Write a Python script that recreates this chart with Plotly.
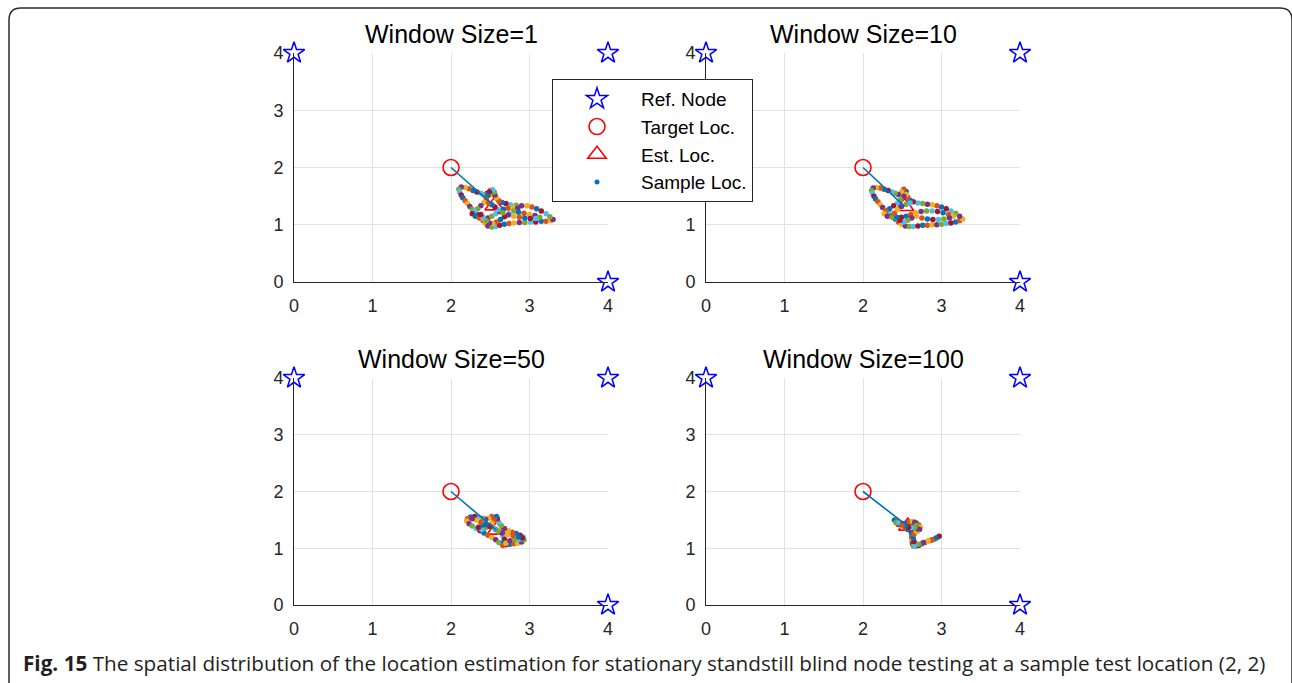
import plotly.graph_objects as go

# ---- data -------------------------------------------------------------
ref_x = [0, 4, 4]
ref_y = [4, 4, 0]
target = (2, 2)

titles = ["Window Size=1", "Window Size=10", "Window Size=50", "Window Size=100"]

# estimated location (mean of samples) for each window size
est_x = [2.55, 2.53, 2.58, 2.57]
est_y = [1.33, 1.32, 1.32, 1.39]

ws1_x = [2.55, 2.50, 2.52, 2.46, 2.42, 2.38, 2.33, 2.28, 2.23, 2.18, 2.13, 2.10, 2.11, 2.13, 2.15,
         2.18, 2.21, 2.24, 2.27, 2.31, 2.35, 2.38, 2.41, 2.44, 2.47, 2.52, 2.57, 2.62,
         2.68, 2.74, 2.80, 2.87, 2.94, 3.01, 3.08, 3.15, 3.21, 3.27, 3.30,
         3.26, 3.21, 3.15, 3.09, 3.03, 2.97, 2.90, 2.83, 2.76, 2.70, 2.65, 2.61,
         2.58, 2.56, 2.55, 2.53, 2.49, 2.47, 2.45, 2.42, 2.38, 2.34, 2.30, 2.27,
         2.31, 2.36, 2.41, 2.47, 2.52, 2.57, 2.62, 2.67, 2.73, 2.79, 2.85,
         2.80, 2.74, 2.68, 2.63, 2.58, 2.53, 2.49, 2.45, 2.41, 2.38,
         2.86, 2.93, 3.00, 3.07, 3.13, 3.08, 3.01, 2.94, 2.87, 2.80, 2.73, 2.66, 2.60, 2.56, 2.52, 2.48]
ws1_y = [1.56, 1.60, 1.52, 1.55, 1.52, 1.55, 1.57, 1.60, 1.63, 1.65, 1.66, 1.62, 1.57, 1.52, 1.47,
         1.42, 1.37, 1.32, 1.27, 1.22, 1.17, 1.12, 1.07, 1.02, 0.98, 0.96, 0.97, 0.99,
         1.01, 1.02, 1.03, 1.04, 1.04, 1.05, 1.05, 1.06, 1.06, 1.07, 1.09,
         1.14, 1.19, 1.24, 1.28, 1.31, 1.33, 1.33, 1.34, 1.35, 1.37, 1.39, 1.42,
         1.47, 1.52, 1.57, 1.61, 1.57, 1.51, 1.45, 1.39, 1.33, 1.28, 1.24, 1.19,
         1.15, 1.12, 1.11, 1.12, 1.15, 1.19, 1.23, 1.27, 1.29, 1.30, 1.29,
         1.24, 1.19, 1.14, 1.09, 1.05, 1.02, 1.03, 1.07, 1.13, 1.18,
         1.22, 1.20, 1.18, 1.16, 1.13, 1.11, 1.11, 1.12, 1.13, 1.15, 1.17, 1.21, 1.26, 1.31, 1.35, 1.38]

ws10_x = [2.55, 2.52, 2.49, 2.45, 2.41, 2.37, 2.32, 2.27, 2.22, 2.17, 2.13, 2.11, 2.12, 2.14, 2.16,
          2.19, 2.22, 2.25, 2.29, 2.33, 2.37, 2.41, 2.45, 2.49, 2.54, 2.59, 2.64,
          2.70, 2.76, 2.82, 2.88, 2.94, 3.00, 3.06, 3.12, 3.18, 3.23, 3.27,
          3.23, 3.18, 3.12, 3.06, 3.00, 2.94, 2.88, 2.82, 2.76, 2.70, 2.64, 2.60, 2.57, 2.55,
          2.52, 2.48, 2.44, 2.39, 2.34, 2.29, 2.27, 2.31, 2.37, 2.43, 2.49, 2.55, 2.61, 2.67,
          2.74, 2.81, 2.88, 2.95, 3.02, 3.09, 3.15,
          3.10, 3.03, 2.96, 2.89, 2.82, 2.75, 2.68, 2.62, 2.57, 2.52, 2.47, 2.43, 2.40, 2.44,
          2.49, 2.55, 2.60]
ws10_y = [1.58, 1.62, 1.57, 1.53, 1.55, 1.57, 1.60, 1.62, 1.64, 1.65, 1.64, 1.60, 1.55, 1.50, 1.45,
          1.40, 1.35, 1.30, 1.25, 1.20, 1.15, 1.10, 1.05, 1.01, 0.98, 0.97, 0.97,
          0.98, 0.99, 0.99, 1.00, 1.00, 1.01, 1.02, 1.03, 1.05, 1.07, 1.10,
          1.15, 1.20, 1.24, 1.28, 1.31, 1.33, 1.35, 1.36, 1.37, 1.38, 1.40, 1.43, 1.48, 1.53,
          1.50, 1.44, 1.38, 1.33, 1.28, 1.24, 1.19, 1.15, 1.13, 1.12, 1.13, 1.15, 1.18, 1.21,
          1.23, 1.24, 1.24, 1.23, 1.21, 1.18, 1.15,
          1.12, 1.10, 1.09, 1.09, 1.10, 1.12, 1.15, 1.12, 1.08, 1.05, 1.08, 1.13, 1.20, 1.27,
          1.32, 1.36, 1.38]

ws50_x = [2.55, 2.52, 2.48, 2.44, 2.40, 2.35, 2.30, 2.25, 2.21, 2.20, 2.23, 2.27, 2.32, 2.37,
          2.42, 2.47, 2.52, 2.57, 2.61, 2.65, 2.70, 2.75, 2.80, 2.85, 2.90, 2.93, 2.92, 2.88,
          2.83, 2.78, 2.73, 2.68, 2.64, 2.61, 2.59, 2.58, 2.55, 2.52, 2.48, 2.44, 2.39, 2.35,
          2.40, 2.46, 2.52, 2.57, 2.62, 2.66, 2.68, 2.67, 2.66, 2.70, 2.75, 2.81, 2.87, 2.91,
          2.86, 2.79, 2.72, 2.65, 2.60, 2.55, 2.50, 2.44, 2.38, 2.32, 2.27]
ws50_y = [1.52, 1.56, 1.53, 1.51, 1.53, 1.55, 1.56, 1.55, 1.52, 1.48, 1.43, 1.39, 1.35, 1.31,
          1.27, 1.23, 1.19, 1.15, 1.10, 1.07, 1.06, 1.07, 1.08, 1.09, 1.11, 1.15, 1.20, 1.23,
          1.26, 1.28, 1.31, 1.35, 1.40, 1.46, 1.52, 1.56, 1.50, 1.44, 1.40, 1.36, 1.33, 1.37,
          1.41, 1.40, 1.37, 1.33, 1.28, 1.22, 1.16, 1.10, 1.05, 1.09, 1.13, 1.15, 1.16, 1.18,
          1.20, 1.22, 1.24, 1.27, 1.31, 1.35, 1.38, 1.42, 1.46, 1.50, 1.52]

ws100_x = [2.40, 2.44, 2.48, 2.52, 2.56, 2.60, 2.64, 2.68, 2.71, 2.73, 2.72, 2.69, 2.65, 2.61,
           2.57, 2.53, 2.49, 2.45, 2.42, 2.46, 2.51, 2.55, 2.59, 2.63, 2.66, 2.68, 2.67, 2.64,
           2.62, 2.62, 2.62, 2.63, 2.64, 2.67, 2.71, 2.75, 2.79, 2.83, 2.87, 2.91, 2.95, 2.97,
           2.93, 2.88, 2.83, 2.77, 2.71, 2.66, 2.65, 2.64, 2.65, 2.68, 2.70, 2.66, 2.62, 2.58,
           2.54, 2.50]
ws100_y = [1.50, 1.48, 1.45, 1.42, 1.40, 1.40, 1.42, 1.44, 1.41, 1.37, 1.33, 1.30, 1.28, 1.30,
           1.33, 1.36, 1.39, 1.42, 1.45, 1.45, 1.43, 1.44, 1.46, 1.47, 1.46, 1.40, 1.35, 1.32,
           1.25, 1.19, 1.13, 1.08, 1.04, 1.03, 1.05, 1.08, 1.10, 1.12, 1.14, 1.16, 1.19, 1.21,
           1.18, 1.15, 1.13, 1.10, 1.07, 1.06, 1.12, 1.18, 1.25, 1.30, 1.34, 1.37, 1.36, 1.37,
           1.39, 1.41]

samples = [(ws1_x, ws1_y), (ws10_x, ws10_y), (ws50_x, ws50_y), (ws100_x, ws100_y)]

ticks = [0, 1, 2, 3, 4]

# MATLAB default colour order, cycled over the samples
palette = ["#0072BD", "#D95319", "#EDB120", "#7E2F8E", "#77AC30", "#4DBEEE", "#A2142F"]

# ---- layout geometry (page is 1292 x 683 px, no margins) ---------------
W, H = 1292, 683
col_px = [(294, 608), (706, 1020)]
row_px = [(53, 282), (378, 605)]

fig = go.Figure()

FONT = "Liberation Sans, Arial, sans-serif"
axis_common = dict(
    range=[0, 4], tickvals=ticks, showgrid=True, gridcolor="#e2e2e2", gridwidth=1,
    showline=True, linecolor="#262626", linewidth=1, zeroline=False, ticks="",
    tickfont=dict(family=FONT, size=18, color="#262626"),
    fixedrange=True, automargin=False,
)

layout_axes = {}
for i in range(4):
    r, c = divmod(i, 2)
    n = "" if i == 0 else str(i + 1)
    x0, x1 = col_px[c]
    y0, y1 = row_px[r]
    layout_axes[f"xaxis{n}"] = dict(axis_common, domain=[x0 / W, x1 / W], anchor=f"y{n}",
                                    ticklabelstandoff=7)
    layout_axes[f"yaxis{n}"] = dict(axis_common, domain=[1 - y1 / H, 1 - y0 / H], anchor=f"x{n}",
                                    ticklabelstandoff=6)

    xa, ya = f"x{n}", f"y{n}"
    first = i == 0
    fig.add_trace(go.Scatter(
        x=ref_x, y=ref_y, mode="markers", xaxis=xa, yaxis=ya, name="Ref. Node",
        showlegend=first, cliponaxis=False,
        marker=dict(symbol="star-open", size=16, color="#0000FF", line=dict(width=1.5, color="#0000FF"))))
    fig.add_trace(go.Scatter(
        x=[target[0]], y=[target[1]], mode="markers", xaxis=xa, yaxis=ya, name="Target Loc.",
        showlegend=first, cliponaxis=False,
        marker=dict(symbol="circle-open", size=16, color="#FF0000", line=dict(width=1.6, color="#FF0000"))))
    fig.add_trace(go.Scatter(
        x=[est_x[i]], y=[est_y[i]], mode="markers", xaxis=xa, yaxis=ya, name="Est. Loc.",
        showlegend=first, cliponaxis=False,
        marker=dict(symbol="triangle-up-open", size=16, color="#FF0000", line=dict(width=1.6, color="#FF0000"))))
    sx, sy = samples[i]
    fig.add_trace(go.Scatter(
        x=sx, y=sy, mode="markers", xaxis=xa, yaxis=ya, name="Sample Loc.",
        showlegend=False,
        marker=dict(symbol="circle", size=5.5, color=[palette[k % len(palette)] for k in range(len(sx))],
                    line=dict(width=0))))
    fig.add_trace(go.Scatter(
        x=[target[0], est_x[i]], y=[target[1], est_y[i]], mode="lines", xaxis=xa, yaxis=ya,
        showlegend=False, line=dict(color="#0072BD", width=1.6)))

    fig.add_annotation(
        xref="paper", yref="paper", x=(x0 + x1) / 2 / W, y=1 - (y0 - 19) / H,
        text=titles[i], showarrow=False, xanchor="center", yanchor="middle",
        font=dict(family=FONT, size=25, color="#000000"))

# legend entry for the sample dots
fig.add_trace(go.Scatter(
    x=[None], y=[None], mode="markers", name="Sample Loc.",
    marker=dict(symbol="circle", size=5, color="#0072BD")))

# caption
fig.add_annotation(
    xref="paper", yref="paper", x=21 / W, y=1 - 663 / H, xanchor="left", yanchor="middle",
    showarrow=False, align="left",
    text="<b>Fig. 15</b> The spatial distribution of the location estimation for stationary "
         "standstill blind node testing at a sample test location (2, 2)",
    font=dict(family="Open Sans, sans-serif", size=20.7, color="#231f20"))

# rounded frame around the figure
def px(x, y):
    return f"{x / W:.5f},{1 - y / H:.5f}"

frame = (f"M {px(9, 700)} L {px(9, 20)} Q {px(9, 8)} {px(21, 8)} "
         f"L {px(1280, 8)} Q {px(1292, 8)} {px(1292, 20)} L {px(1292, 700)}")
fig.add_shape(type="path", xref="paper", yref="paper", path=frame,
              line=dict(color="#2b2b2b", width=1.5))

fig.update_layout(
    width=W, height=H, margin=dict(l=0, r=0, t=0, b=0, pad=0, autoexpand=False),
    paper_bgcolor="white", plot_bgcolor="white",
    legend=dict(x=552 / W, y=1 - 79 / H, xanchor="left", yanchor="top",
                bgcolor="white", bordercolor="#262626", borderwidth=1,
                font=dict(family=FONT, size=19, color="#000000"),
                traceorder="normal", itemwidth=78),
    showlegend=True,
    **layout_axes,
)

fig.write_html("out.html", post_script="document.body.style.margin = '0';")
